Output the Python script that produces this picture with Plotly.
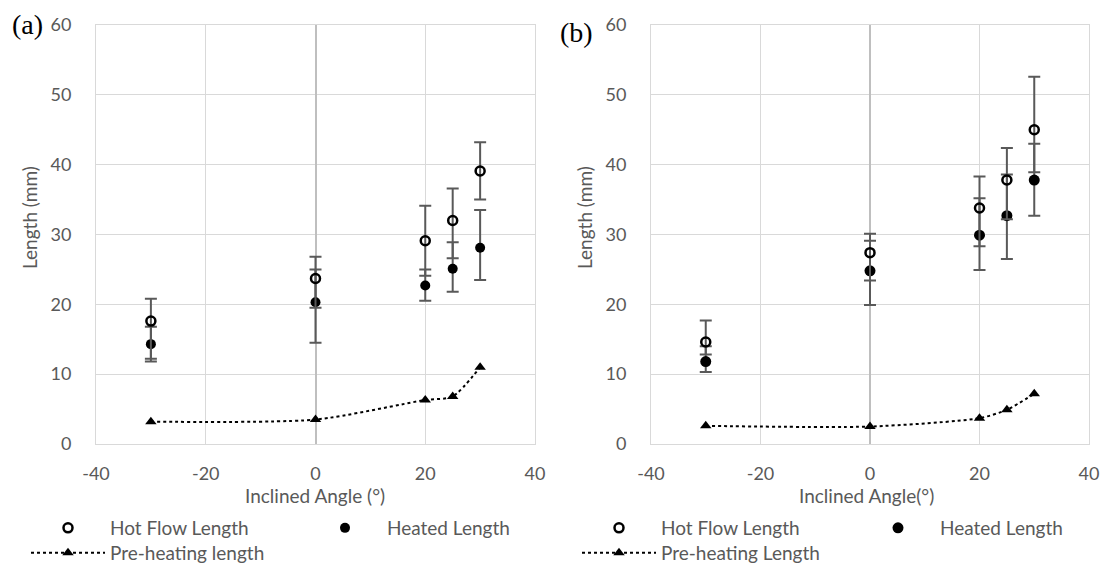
import plotly.graph_objects as go

# data
angles = [-30, 0, 20, 25, 30]

hot_a = [17.6, 23.7, 29.1, 32.0, 39.1]
hot_a_hi = [20.8, 26.8, 34.1, 36.6, 43.2]
hot_a_lo = [12.2, 19.5, 24.1, 26.6, 35.0]
heated_a = [14.3, 20.3, 22.7, 25.1, 28.1]
heated_a_hi = [16.8, 25.0, 25.0, 28.9, 33.5]
heated_a_lo = [11.8, 14.5, 20.5, 21.8, 23.5]
pre_a = [3.2, 3.5, 6.3, 6.8, 11.0]

hot_b = [14.6, 27.4, 33.8, 37.8, 45.0]
hot_b_hi = [17.7, 30.1, 38.3, 42.4, 52.6]
hot_b_lo = [12.8, 23.4, 28.3, 32.2, 38.9]
heated_b = [11.8, 24.8, 29.9, 32.7, 37.8]
heated_b_hi = [14.0, 29.1, 35.2, 38.6, 43.0]
heated_b_lo = [10.3, 19.9, 24.9, 26.5, 32.7]
pre_b = [2.6, 2.5, 3.7, 4.9, 7.2]

x_ticks = [-40, -20, 0, 20, 40]
x_labels = ["-40", "-20", "0", "20", "40"]
y_ticks = [0, 10, 20, 30, 40, 50, 60]

W, H = 1104, 565
TOP, BOT = 25, 444
FONT = "Lato"
GREY = "#595959"


def px_x(p):
    return p / W


def px_y(p):
    return (BOT - p) / (BOT - TOP)


def errbar(vals, hi, lo):
    return dict(type="data", symmetric=False,
                array=[h - v for h, v in zip(hi, vals)],
                arrayminus=[v - l for v, l in zip(vals, lo)],
                color=GREY, thickness=2, width=6)


fig = go.Figure()

# legend ids: (pre-heating, heated, hot flow)
panels = [
    ("x", "y", hot_a, hot_a_hi, hot_a_lo, heated_a, heated_a_hi, heated_a_lo,
     pre_a, "Pre-heating length", ("legend", "legend2", "legend3"), 10),
    ("x2", "y2", hot_b, hot_b_hi, hot_b_lo, heated_b, heated_b_hi, heated_b_lo,
     pre_b, "Pre-heating Length", ("legend4", "legend5", "legend6"), 11),
]

for xa, ya, hot, hhi, hlo, heat, ehi, elo, pre, pre_name, lgs, msize in panels:
    fig.add_trace(go.Scatter(
        x=angles, y=pre, mode="lines+markers", name=pre_name,
        xaxis=xa, yaxis=ya, legend=lgs[0],
        line=dict(color="black", width=2, dash="dot", shape="spline", smoothing=0.7),
        marker=dict(symbol="triangle-up", size=10, color="black"),
    ))
    fig.add_trace(go.Scatter(
        x=angles, y=heat, mode="markers", name="Heated Length",
        xaxis=xa, yaxis=ya, legend=lgs[1],
        error_y=errbar(heat, ehi, elo),
        marker=dict(symbol="circle", size=msize, color="black"),
    ))
    fig.add_trace(go.Scatter(
        x=angles, y=hot, mode="markers", name="Hot Flow Length",
        xaxis=xa, yaxis=ya, legend=lgs[2],
        error_y=errbar(hot, hhi, hlo),
        marker=dict(symbol="circle-open", size=9, color="black",
                    line=dict(width=2.5, color="black")),
    ))

axis_common = dict(
    showgrid=True, gridcolor="#d9d9d9", gridwidth=1,
    showline=True, linecolor="#d9d9d9", linewidth=1, mirror=True,
    ticks="", automargin=False,
    tickfont=dict(family=FONT, size=18, color=GREY),
)

fig.update_layout(
    width=W, height=H,
    showlegend=True,
    margin=dict(l=0, r=0, t=TOP, b=H - BOT, autoexpand=False),
    paper_bgcolor="white", plot_bgcolor="white",
    font=dict(family=FONT, size=18, color=GREY),
    xaxis=dict(domain=[px_x(96), px_x(535)], range=[-40, 40],
               tickvals=x_ticks, ticktext=x_labels,
               zeroline=True, zerolinecolor="#bfbfbf", zerolinewidth=2,
               anchor="y", ticklabelstandoff=13, **axis_common),
    xaxis2=dict(domain=[px_x(651), px_x(1089)], range=[-40, 40],
                tickvals=x_ticks, ticktext=x_labels,
                zeroline=True, zerolinecolor="#bfbfbf", zerolinewidth=2,
                anchor="y2", ticklabelstandoff=13, **axis_common),
    yaxis=dict(domain=[0, 1], range=[0, 60], tickvals=y_ticks, zeroline=False,
               anchor="x", ticklabelstandoff=20, **axis_common),
    yaxis2=dict(domain=[0, 1], range=[0, 60], tickvals=y_ticks, zeroline=False,
                anchor="x2", ticklabelstandoff=20, **axis_common),
)

# one legend per entry so each can sit where the original puts it
legend_spots = {
    "legend": (26, 553), "legend2": (303, 528), "legend3": (26, 528),
    "legend4": (577, 553), "legend5": (856, 528), "legend6": (577, 528),
}
for key, (lx, ly) in legend_spots.items():
    fig.update_layout({key: dict(
        x=lx / W, y=1 - ly / H, xref="container", yref="container",
        xanchor="left", yanchor="middle", visible=True,
        orientation="h", itemwidth=74, bgcolor="rgba(0,0,0,0)",
        font=dict(family=FONT, size=19, color=GREY),
    )})

texts = [
    ("(a)", 27, 24, 0, "Liberation Serif", 28, "black"),
    ("(b)", 576, 33, 0, "Liberation Serif", 28, "black"),
    ("Length (mm)", 29, 218, -90, FONT, 19, GREY),
    ("Length (mm)", 584, 218, -90, FONT, 19, GREY),
    ("Inclined Angle (°)", 315, 496, 0, FONT, 19, GREY),
    ("Inclined Angle(°)", 866, 496, 0, FONT, 19, GREY),
]
for txt, ax, ay, rot, fam, size, col in texts:
    fig.add_annotation(text=txt, x=px_x(ax), y=px_y(ay), xref="paper", yref="paper",
                       xanchor="center", yanchor="middle", showarrow=False,
                       textangle=rot, font=dict(family=fam, size=size, color=col))

fig.write_html("out.html", config={"displayModeBar": False},
               post_script="document.body.style.margin='0';")
